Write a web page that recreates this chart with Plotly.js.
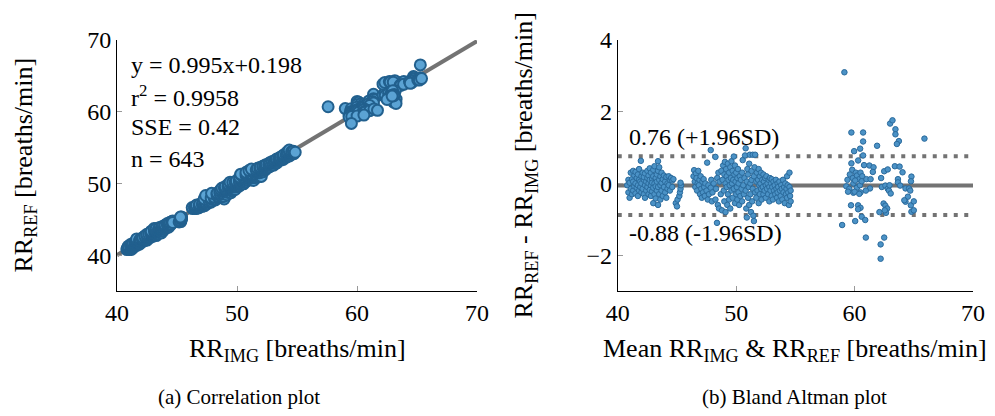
<!DOCTYPE html>
<html>
<head>
<meta charset="utf-8">
<script src="https://cdn.plot.ly/plotly-3.0.1.min.js"></script>
<style>html,body{margin:0;padding:0;background:#fff;}#chart{width:995px;height:416px;}</style>
</head>
<body>
<div id="chart"></div>
<script>
// Bland-Altman points: [mean of RR_IMG & RR_REF, RR_REF - RR_IMG]
const ptsA = [[40.8,-0.05],[40.9,0.1],[40.9,-0.25],[41.0,0.02],[41.0,-0.4],[41.1,0.3],[41.1,-0.15],[41.2,0.12],[41.2,-0.3],[41.3,0.35],[41.3,0.05],[41.3,-0.2],[41.4,0.22],[41.4,-0.08],[41.5,0.32],[41.5,0.0],[41.5,-0.28],[41.6,0.15],[41.6,-0.12],[41.7,0.25],[41.7,-0.05],[41.7,-0.35],[41.8,0.4],[41.8,0.1],[41.8,-0.2],[41.95,0.63],[41.9,0.05],[41.9,-0.1],[42.0,0.2],[42.0,-0.25],[42.0,0.0],[42.1,0.3],[42.1,-0.15],[42.2,0.1],[42.2,-0.3],[42.2,0.18],[42.3,-0.05],[42.3,0.28],[42.3,-0.4],[42.4,0.05],[42.4,-0.2],[42.5,0.15],[42.5,-0.1],[42.5,0.35],[42.6,0.0],[42.6,-0.3],[42.6,0.22],[42.7,0.1],[42.7,-0.18],[42.7,0.42],[42.8,-0.05],[42.8,0.3],[42.8,-0.35],[42.9,0.12],[42.9,-0.22],[42.9,0.02],[43.0,0.38],[43.0,-0.12],[43.0,-0.55],[43.0,0.2],[43.1,0.0],[43.1,-0.3],[43.1,0.48],[43.2,0.15],[43.2,-0.08],[43.2,-0.42],[43.3,0.25],[43.3,0.05],[43.3,-0.2],[43.4,0.62],[43.4,0.35],[43.4,-0.1],[43.4,-0.6],[43.5,0.45],[43.5,0.1],[43.5,-0.3],[43.6,0.2],[43.6,-0.05],[43.6,-0.45],[43.7,0.3],[43.7,-0.2],[43.7,0.02],[43.8,0.12],[43.8,-0.35],[43.9,0.22],[43.9,-0.1],[44.0,0.05],[44.0,-0.25],[44.1,0.18],[44.1,-0.4],[44.2,0.0],[44.2,-0.15],[44.3,0.2],[44.3,-0.05],[44.4,0.1],[44.4,-0.2],[44.5,0.15],[44.6,0.08],[44.7,0.12],[44.6,-0.1],[44.9,-0.55],[45.0,-0.64],[45.05,-0.45],[45.2,-0.35],[45.25,-0.25],[45.3,-0.15],[45.35,-0.05],[45.3,0.02]];
const ptsB = [[46.4,0.2],[46.45,0.37],[46.5,0.05],[46.55,-0.1],[46.6,0.28],[46.65,0.15],[46.7,-0.2],[46.75,0.0],[46.8,0.35],[46.85,-0.05],[46.9,0.1],[46.95,-0.3],[47.0,0.2],[47.05,-0.15],[47.1,-0.4],[47.15,0.05],[47.2,-0.25],[47.25,0.12],[47.3,-0.1],[47.35,-0.35],[47.4,0.0],[47.5,-0.2],[47.55,0.58],[47.6,-0.45],[47.65,-0.05],[47.7,-0.3],[47.85,0.93],[47.85,-0.12],[47.9,0.1],[47.95,-0.5],[48.0,-0.25],[48.1,0.0],[48.25,0.74],[48.25,-0.45],[48.3,-0.15],[48.38,-1.1],[48.4,0.15],[48.45,-0.6],[48.5,0.3],[48.55,-0.7],[48.6,0.05],[48.7,-0.3],[48.75,0.35],[48.8,-0.75],[48.85,0.1],[48.9,0.5],[48.95,-0.2],[49.0,0.25],[49.0,-0.5],[49.05,0.6],[49.1,0.0],[49.1,-0.8],[49.15,0.4],[49.2,-0.1],[49.2,0.2],[49.25,-0.6],[49.3,0.55],[49.3,-0.3],[49.35,0.1],[49.4,-0.45],[49.4,0.3],[49.45,-0.05],[49.5,0.45],[49.5,-0.7],[49.55,0.15],[49.6,-0.2],[49.6,0.62],[49.65,0.0],[49.7,-0.4],[49.7,0.35],[49.75,0.1],[49.8,0.75],[49.8,-0.15],[49.85,0.25],[49.9,-0.55],[49.9,0.5],[49.95,0.05],[50.0,-0.3],[50.0,0.3],[50.05,-0.1],[50.1,0.15],[50.1,-0.45],[50.15,0.4],[50.2,-0.25],[50.2,0.0],[50.25,-0.6],[50.3,0.2],[50.35,-0.35],[50.4,0.1],[50.45,-0.15],[50.5,-0.5],[50.5,0.3],[50.55,0.65],[50.6,-0.05],[50.65,-0.3],[50.7,0.15],[50.75,0.78],[50.8,0.98],[50.8,-0.2],[50.85,-0.7],[50.9,0.05],[50.9,-0.95],[50.95,0.4],[51.0,-0.4],[51.0,0.25],[51.05,-0.1],[51.1,0.55],[51.1,-0.6],[51.15,0.8],[51.2,0.0],[51.2,-0.3],[51.25,-0.8],[51.3,0.35],[51.3,0.1],[51.35,-0.5],[51.4,0.8],[51.4,-0.15],[51.45,-0.9],[51.5,0.2],[51.5,-1.05],[51.55,0.45],[51.6,-0.25],[51.6,0.8]];
const ptsC = [[51.7,0.05],[51.7,-0.4],[51.75,0.3],[51.8,-0.2],[51.85,0.1],[51.9,-0.55],[51.9,0.4],[51.95,-0.05],[52.0,0.2],[52.0,-0.3],[52.05,0.0],[52.1,-0.15],[52.1,0.3],[52.15,-0.45],[52.2,0.1],[52.25,-0.1],[52.3,0.25],[52.3,-0.3],[52.35,0.05],[52.4,-0.2],[52.45,0.15],[52.5,-0.05],[52.5,-0.4],[52.55,0.2],[52.6,-0.15],[52.65,0.0],[52.7,-0.3],[52.75,0.1],[52.8,-0.1],[52.8,-0.5],[52.85,0.15],[52.9,-0.2],[52.95,0.0],[53.0,-0.35],[53.0,0.12],[53.05,-0.1],[53.1,-0.45],[53.15,0.05],[53.2,-0.2],[53.25,-0.05],[53.3,-0.3],[53.35,0.1],[53.4,-0.15],[53.45,-0.4],[53.5,0.0],[53.5,-0.25],[53.55,-0.1],[53.6,-0.5],[53.65,0.05],[53.7,-0.2],[53.75,-0.35],[53.8,-0.05],[53.85,-0.15],[53.9,-0.45],[53.95,0.1],[54.0,-0.25],[54.05,-0.1],[54.1,-0.55],[54.15,0.0],[54.2,-0.3],[54.25,-0.15],[54.3,0.2],[54.3,-0.4],[54.35,-0.05],[54.4,-0.25],[54.45,-0.6],[54.5,0.3],[54.5,-0.1],[54.55,-0.35],[54.6,-0.2],[54.6,-0.5]];
const ptsD = [[59.14,3.1],[59.73,1.42],[60.72,1.42],[60.72,1.17],[59.96,0.9],[60.47,0.97],[60.72,0.78],[61.9,1.05],[60.3,0.64],[59.73,0.56],[60.8,0.51],[61.25,0.5],[61.6,0.45],[61.54,0.32],[59.8,0.38],[60.1,0.3],[59.6,0.25],[59.85,0.15],[60.2,0.22],[60.5,0.3],[60.4,0.12],[60.65,0.2],[62.24,0.15],[62.5,0.34],[62.8,0.39],[63.4,0.48],[63.8,0.47],[63.0,1.67],[63.2,1.76],[63.45,1.51],[63.45,1.37],[63.74,1.18],[63.57,1.1],[65.9,1.25],[64.05,0.31],[64.8,0.19],[64.76,0.06],[63.66,0.12],[63.66,0.03],[59.4,0.1],[59.3,-0.08],[59.55,-0.15],[59.9,0.0],[60.05,0.08],[60.2,-0.12],[60.45,-0.05],[60.6,0.06],[61.0,0.12],[61.35,0.12],[61.3,-0.14],[60.95,-0.2],[60.5,-0.25],[59.9,-0.26],[59.45,-0.23],[60.0,-0.23],[60.4,-0.29],[62.3,-0.1],[62.6,-0.06],[62.8,-0.15],[62.9,-0.2],[63.05,-0.28],[62.95,-0.05],[63.85,-0.06],[64.3,-0.14],[64.6,-0.14],[64.7,-0.2],[64.5,-0.37],[64.3,-0.51],[64.2,-0.47],[64.75,-0.61],[65.0,-0.5],[64.8,-0.79],[65.0,-0.75],[59.7,-0.61],[60.3,-0.61],[60.5,-0.68],[60.3,-0.72],[60.6,-0.93],[60.9,-1.02],[60.05,-1.05],[58.95,-1.16],[60.95,-1.51],[62.2,-1.7],[62.5,-1.51],[62.2,-2.1],[62.45,-0.56],[62.6,-0.62],[62.75,-0.7],[62.65,-0.82],[62.1,-0.8],[62.55,-0.75]];

// Fit and limits of agreement
const fitSlope = 0.995;
const fitIntercept = 0.198;
const fitR2 = 0.9958;
const fitSSE = 0.42;
const nSamples = 643;
const meanDiff = -0.06;
const upperLoA = 0.76;
const lowerLoA = -0.88;
const xSpan = [40, 70];

const allPts = ptsA.concat(ptsB, ptsC, ptsD);
const baMean = allPts.map(p => p[0]);
const baDiff = allPts.map(p => p[1]);
const rrImg = allPts.map(p => p[0] - p[1] / 2);
const rrRef = allPts.map(p => p[0] + p[1] / 2);

const FONT = '"Liberation Serif", "Times New Roman", Times, serif';
const GRAY = '#737373';

const traces = [
  {x: xSpan, y: xSpan.map(v => fitSlope * v + fitIntercept), mode: 'lines', xaxis: 'x', yaxis: 'y',
   line: {color: GRAY, width: 4}, hoverinfo: 'skip'},
  {x: rrImg, y: rrRef, mode: 'markers', xaxis: 'x', yaxis: 'y',
   marker: {size: 11, color: '#5ba3d4', line: {color: '#22608e', width: 2}}},
  {x: xSpan, y: xSpan.map(() => meanDiff), mode: 'lines', xaxis: 'x2', yaxis: 'y2',
   line: {color: GRAY, width: 4}, hoverinfo: 'skip'},
  {x: xSpan, y: xSpan.map(() => upperLoA), mode: 'lines', xaxis: 'x2', yaxis: 'y2',
   line: {color: GRAY, width: 4, dash: '4px,6.5px'}, hoverinfo: 'skip'},
  {x: xSpan, y: xSpan.map(() => lowerLoA), mode: 'lines', xaxis: 'x2', yaxis: 'y2',
   line: {color: GRAY, width: 4, dash: '4px,6.5px'}, hoverinfo: 'skip'},
  {x: baMean, y: baDiff, mode: 'markers', xaxis: 'x2', yaxis: 'y2',
   marker: {size: 5.5, color: '#4b92c6', line: {color: '#2a6a9c', width: 1}}}
];

const axBase = {
  showgrid: false, zeroline: false, showline: true, linecolor: '#000', linewidth: 1,
  ticks: 'inside', ticklen: 5, tickcolor: '#999', tickwidth: 1,
  tickfont: {family: FONT, size: 24, color: '#000'}, mirror: false, fixedrange: true
};

const txt = (s, x, y, size, extra) => Object.assign({text: s, x: x, y: y, showarrow: false,
  font: {family: FONT, size: size, color: '#000'}}, extra || {});

const NOTE = 24;   // in-plot notes
const TITLE = 26;  // axis titles
const CAP = 21;    // sub-figure captions

const layout = {
  width: 995, height: 416,
  margin: {l: 117, r: 22, t: 40, b: 125},
  paper_bgcolor: '#fff', plot_bgcolor: '#fff',
  showlegend: false,
  font: {family: FONT, color: '#000'},
  xaxis: Object.assign({}, axBase, {domain: [0, 0.4206], range: [40, 70], dtick: 10, anchor: 'y'}),
  yaxis: Object.assign({}, axBase, {domain: [0, 1], range: [35, 70], dtick: 10, tick0: 40, anchor: 'x'}),
  xaxis2: Object.assign({}, axBase, {domain: [0.585, 1], range: [40, 70], dtick: 10, anchor: 'y2'}),
  yaxis2: Object.assign({}, axBase, {domain: [0, 1], range: [-3, 4], dtick: 2, anchor: 'x2'}),
  annotations: [
    txt('y = ' + fitSlope + 'x+' + fitIntercept, 41, 66.5, NOTE, {xref: 'x', yref: 'y', xanchor: 'left', yanchor: 'middle'}),
    txt('r<sup>2</sup> = ' + fitR2, 41, 62.2, NOTE, {xref: 'x', yref: 'y', xanchor: 'left', yanchor: 'middle'}),
    txt('SSE = ' + fitSSE, 41, 57.8, NOTE, {xref: 'x', yref: 'y', xanchor: 'left', yanchor: 'middle'}),
    txt('n = ' + nSamples, 41, 53.35, NOTE, {xref: 'x', yref: 'y', xanchor: 'left', yanchor: 'middle'}),
    txt(upperLoA + ' (+1.96SD)', 40.8, 1.3, NOTE, {xref: 'x2', yref: 'y2', xanchor: 'left', yanchor: 'middle'}),
    txt(lowerLoA + ' (-1.96SD)', 40.8, -1.38, NOTE, {xref: 'x2', yref: 'y2', xanchor: 'left', yanchor: 'middle'}),
    txt('RR<sub>IMG</sub> [breaths/min]', 0.2103, -0.235, TITLE, {xref: 'paper', yref: 'paper', xanchor: 'center', yanchor: 'middle'}),
    txt('Mean RR<sub>IMG</sub> &amp; RR<sub>REF</sub> [breaths/min]', 0.7925, -0.235, TITLE, {xref: 'paper', yref: 'paper', xanchor: 'center', yanchor: 'middle'}),
    txt('RR<sub>REF</sub> [breaths/min]', -0.1086, 0.5, TITLE, {xref: 'paper', yref: 'paper', xanchor: 'center', yanchor: 'middle', textangle: -90}),
    txt('RR<sub>REF</sub> - RR<sub>IMG</sub> [breaths/min]', 0.4766, 0.5, TITLE, {xref: 'paper', yref: 'paper', xanchor: 'center', yanchor: 'middle', textangle: -90}),
    txt('(a) Correlation plot', 0.1425, -0.422, CAP, {xref: 'paper', yref: 'paper', xanchor: 'center', yanchor: 'middle'}),
    txt('(b) Bland Altman plot', 0.792, -0.422, CAP, {xref: 'paper', yref: 'paper', xanchor: 'center', yanchor: 'middle'})
  ]
};

Plotly.newPlot('chart', traces, layout, {displayModeBar: false, staticPlot: true});
</script>
</body>
</html>
